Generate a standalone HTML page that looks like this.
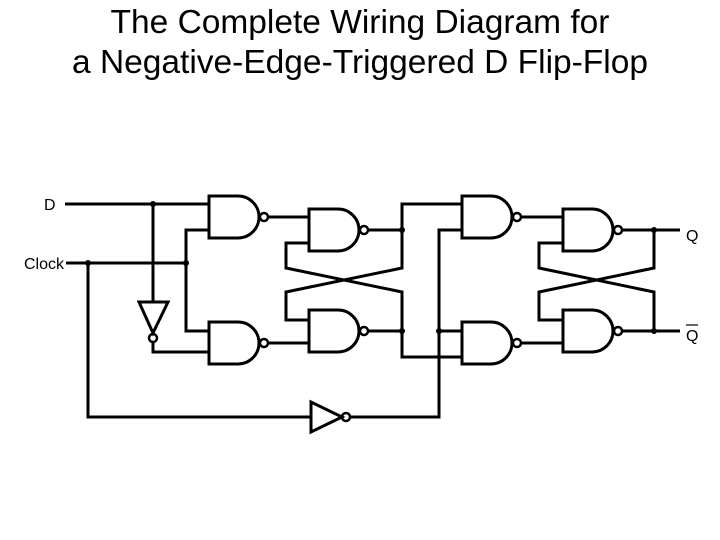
<!DOCTYPE html>
<html><head><meta charset="utf-8"><style>
html,body{margin:0;padding:0;background:#fff;width:720px;height:540px;overflow:hidden}
</style></head><body>
<svg width="720" height="540" xmlns="http://www.w3.org/2000/svg" font-family="Liberation Sans, Arial, sans-serif">
<text x="360" y="33" font-size="33.5" text-anchor="middle">The Complete Wiring Diagram for</text>
<text x="360" y="73" font-size="33.5" text-anchor="middle">a Negative-Edge-Triggered D Flip-Flop</text>
<text x="44" y="210" font-size="16">D</text>
<text x="24" y="269" font-size="16">Clock</text>
<text x="686" y="241" font-size="16">Q</text>
<text x="686" y="341" font-size="16">Q</text>
<line x1="686" y1="325" x2="698" y2="325" stroke="#000" stroke-width="1.2"/>
<g fill="none" stroke="#000" stroke-width="3">
<path d="M209,196 H238 A21,21 0 0 1 238,238 H209 Z"/>
<path d="M209,322 H238 A21,21 0 0 1 238,364 H209 Z"/>
<path d="M309,209 H338 A21,21 0 0 1 338,251 H309 Z"/>
<path d="M309,310 H338 A21,21 0 0 1 338,352 H309 Z"/>
<path d="M462,196 H491 A21,21 0 0 1 491,238 H462 Z"/>
<path d="M462,322 H491 A21,21 0 0 1 491,364 H462 Z"/>
<path d="M563,209 H592 A21,21 0 0 1 592,251 H563 Z"/>
<path d="M563,310 H592 A21,21 0 0 1 592,352 H563 Z"/>
<g stroke-width="2.5">
<circle cx="264" cy="217" r="4"/><circle cx="264" cy="343" r="4"/>
<circle cx="364" cy="230" r="4"/><circle cx="364" cy="331" r="4"/>
<circle cx="517" cy="217" r="4"/><circle cx="517" cy="343" r="4"/>
<circle cx="618" cy="230" r="4"/><circle cx="618" cy="331" r="4"/>
<circle cx="153" cy="338" r="4"/><circle cx="346" cy="417" r="4"/>
</g>
<polygon points="139,302 168,302 153,333"/>
<polygon points="311,402 311,432 342,417"/>
<polyline points="65,204 209,204"/>
<polyline points="153,204 153,302"/>
<polyline points="153,342 153,352 209,352"/>
<polyline points="66,263 186,263"/>
<polyline points="209,230 186,230 186,331 209,331"/>
<polyline points="88,263 88,417 311,417"/>
<polyline points="350,417 439,417 439,230 462,230"/>
<polyline points="439,331 462,331"/>
<polyline points="268,217 309,217"/>
<polyline points="268,343 309,343"/>
<polyline points="368,230 402,230"/>
<polyline points="368,331 402,331"/>
<polyline points="462,204 402,204 402,268 286,292 286,320 309,320"/>
<polyline points="309,243 286,243 286,268 402,292 402,357 462,357"/>
<polyline points="521,217 563,217"/>
<polyline points="521,343 563,343"/>
<polyline points="622,230 680,230"/>
<polyline points="622,331 680,331"/>
<polyline points="563,243 539,243 539,268 654,292 654,331"/>
<polyline points="563,320 539,320 539,292 654,268 654,230"/>
</g>
<g fill="#000">
<circle cx="153" cy="204" r="3"/><circle cx="88" cy="263" r="3"/><circle cx="186" cy="263" r="3"/>
<circle cx="402" cy="230" r="3"/><circle cx="402" cy="331" r="3"/><circle cx="439" cy="331" r="3"/>
<circle cx="654" cy="230" r="3"/><circle cx="654" cy="331" r="3"/>
</g>
</svg>
</body></html>
